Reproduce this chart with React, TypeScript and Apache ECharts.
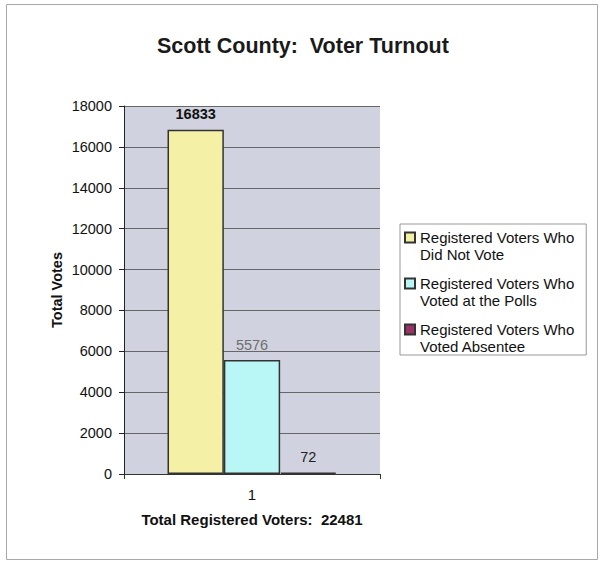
import React, { useEffect, useRef } from "react";
import * as echarts from "echarts";

const categories = ["1"];
const seriesNames = [
  "Registered Voters Who Did Not Vote",
  "Registered Voters Who Voted at the Polls",
  "Registered Voters Who Voted Absentee",
];
const didNotVote = [16833];
const votedAtPolls = [5576];
const votedAbsentee = [72];
const seriesValues = [didNotVote, votedAtPolls, votedAbsentee];
const seriesColors = ["#F4F0A6", "#B9F6F6", "#993366"];
const labelColors = ["#111111", "#6E6E6E", "#222222"];
const labelWeights = ["bold", "normal", "normal"];
const titleText = "Scott County:  Voter Turnout";
const yAxisName = "Total Votes";
const totalRegistered = 22481;
const xAxisName = `Total Registered Voters:  ${totalRegistered}`;
const yMin = 0;
const yMax = 18000;
const yInterval = 2000;

const FONT = "'Liberation Sans', Arial, sans-serif";

export default function App() {
  const ref = useRef<HTMLDivElement>(null);
  useEffect(() => {
    if (!ref.current) return;
    const chart = echarts.init(ref.current, null, { renderer: "svg" });
    chart.setOption({
      animation: false,
      backgroundColor: "#ffffff",
      textStyle: { fontFamily: FONT },
      title: {
        text: titleText,
        left: 157,
        top: 35,
        padding: 0,
        textStyle: { fontFamily: FONT, fontSize: 21.5, fontWeight: "bold", color: "#1a1a1a" },
      },
      graphic: [
        {
          type: "rect",
          shape: { x: 6.5, y: 4.5, width: 591, height: 555 },
          style: { fill: "none", stroke: "#a8a8a8", lineWidth: 1 },
          silent: true,
        },
      ],
      legend: {
        orient: "vertical",
        left: 400,
        top: 224,
        padding: [5, 12, 0, 4],
        itemGap: 12,
        itemWidth: 10,
        itemHeight: 27,
        icon: "path://M0,0L10,0L10,10L0,10ZM0,27",
        borderColor: "#999999",
        borderWidth: 1,
        formatter: (name: string) => name.replace("Who ", "Who\n"),
        textStyle: { fontFamily: FONT, fontSize: 15, lineHeight: 17, color: "#111" },
        data: seriesNames,
      },
      grid: {
        left: 124,
        right: 222,
        top: 106,
        bottom: 94,
        show: true,
        backgroundColor: "#D0D3DF",
        borderWidth: 0,
      },
      xAxis: {
        type: "category",
        data: categories,
        name: xAxisName,
        nameLocation: "middle",
        nameGap: 38,
        nameTextStyle: { fontFamily: FONT, fontSize: 15, fontWeight: "bold", color: "#111" },
        axisLine: { lineStyle: { color: "#333", width: 1 } },
        axisTick: { show: true, length: 5, lineStyle: { color: "#333" } },
        axisLabel: { fontSize: 15, color: "#111", margin: 13, fontFamily: FONT },
      },
      yAxis: {
        type: "value",
        min: yMin,
        max: yMax,
        interval: yInterval,
        name: yAxisName,
        nameLocation: "middle",
        nameGap: 60,
        nameTextStyle: { fontFamily: FONT, fontSize: 14.5, fontWeight: "bold", color: "#111" },
        axisLine: { show: true, lineStyle: { color: "#222", width: 1 } },
        axisTick: { show: true, length: 5, lineStyle: { color: "#222" } },
        axisLabel: {
          fontSize: 14.5,
          color: "#111",
          margin: 12,
          fontFamily: FONT,
          formatter: (v: number) => String(v),
        },
        splitLine: { show: true, lineStyle: { color: "#666", width: 1 } },
      },
      series: seriesNames.map((name, i) => ({
        type: "bar",
        name,
        data: seriesValues[i],
        barGap: "0%",
        barCategoryGap: "34%",
        itemStyle: { color: seriesColors[i], borderColor: "#333333", borderWidth: 1.5 },
        label: {
          show: true,
          position: "top",
          distance: 8,
          fontFamily: FONT,
          fontSize: 14.5,
          fontWeight: labelWeights[i],
          color: labelColors[i],
        },
      })),
    });
    return () => chart.dispose();
  }, []);
  return (
    <div
      ref={ref}
      style={{ position: "absolute", left: 0, top: 0, width: 602, height: 568 }}
    />
  );
}
